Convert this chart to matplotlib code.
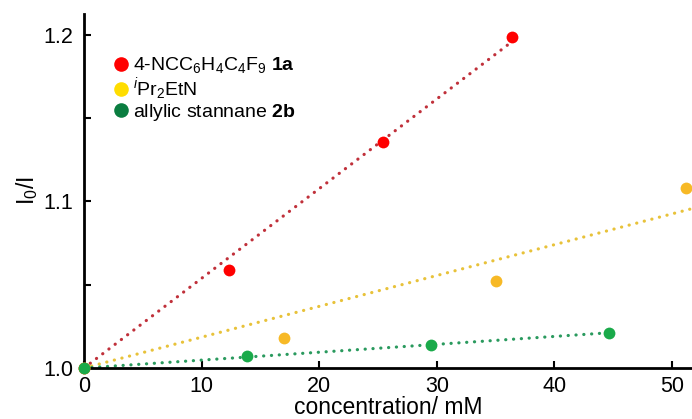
import numpy as np
import matplotlib
matplotlib.use('Agg')
import matplotlib.pyplot as plt
from matplotlib.lines import Line2D

plt.rcParams['font.family'] = ['Liberation Sans', 'DejaVu Sans']
plt.rcParams['mathtext.fontset'] = 'custom'
plt.rcParams['mathtext.rm'] = 'Liberation Sans'
plt.rcParams['mathtext.it'] = 'Liberation Sans:italic'
plt.rcParams['mathtext.bf'] = 'Liberation Sans:bold'

# quenching data (Stern-Volmer)
x_1a = [0.0, 12.3, 25.4, 36.4]
y_1a = [1.000, 1.059, 1.136, 1.199]
x_amine = [0.0, 17.0, 35.0, 51.2]
y_amine = [1.000, 1.018, 1.052, 1.108]
x_2b = [0.0, 13.9, 29.5, 44.6]
y_2b = [1.000, 1.007, 1.014, 1.021]

labels = [r'4-NCC$_6$H$_4$C$_4$F$_9$ $\mathbf{1a}$',
          r'$^{\mathit{i}}$Pr$_2$EtN',
          r'allylic stannane $\mathbf{2b}$']

XMAX = 51.7


def fit_origin(x, y):
    # linear fit forced through (0, 1)
    x = np.array(x)
    y = np.array(y) - 1.0
    return np.sum(x * y) / np.sum(x * x)


fig = plt.figure(figsize=(6.92, 4.19), dpi=100)
ax = fig.add_axes([0.1214, 0.1217, 0.8786, 0.845])

series = [
    (x_1a, y_1a, '#ff0000', '#c0303a', max(x_1a)),
    (x_amine, y_amine, '#f7b926', '#e8c23a', XMAX),
    (x_2b, y_2b, '#1aaa4a', '#2a9a5e', max(x_2b)),
]
for xs, ys, mc, lc, xend in series:
    k = fit_origin(xs, ys)
    xf = np.array([0.0, xend])
    ax.plot(xf, 1.0 + k * xf, color=lc, lw=2.3, dashes=(0.05, 2.4),
            dash_capstyle='round', zorder=2)
for xs, ys, mc, lc, xend in series:
    ax.plot(xs, ys, 'o', color=mc, ms=8.5, mec='none', clip_on=False, zorder=3)

ax.set_xlim(0, XMAX)
ax.set_ylim(1.0, 1.2126)
ax.set_xticks([0, 10, 20, 30, 40, 50])
ax.set_yticks([1.0, 1.1, 1.2])
ax.set_yticks([1.05, 1.15], minor=True)
ax.set_yticklabels(['1.0', '1.1', '1.2'])
ax.tick_params(direction='in', length=5, width=1.5, labelsize=15.5)
ax.tick_params(axis='x', pad=6)
ax.tick_params(axis='y', pad=8)
ax.tick_params(axis='y', which='minor', direction='in', length=5, width=1.5)
for s in ['top', 'right']:
    ax.spines[s].set_visible(False)
for s in ['left', 'bottom']:
    ax.spines[s].set_linewidth(2)

ax.set_xlabel('concentration/ mM', fontsize=16.5, labelpad=-1)
ax.set_ylabel(r'I$_0$/I', fontsize=16.5, labelpad=2)

handles = [Line2D([], [], marker='o', ls='none', color=c, ms=10.5, mec='none')
           for c in ['#ff0000', '#ffdd00', '#0a7d40']]
ax.legend(handles, labels, loc='upper left', bbox_to_anchor=(0.036, 0.905),
          frameon=False, fontsize=14, handlelength=0.8, handletextpad=0.2,
          labelspacing=0.0, borderaxespad=0)

fig.savefig('out.png', dpi=100)
